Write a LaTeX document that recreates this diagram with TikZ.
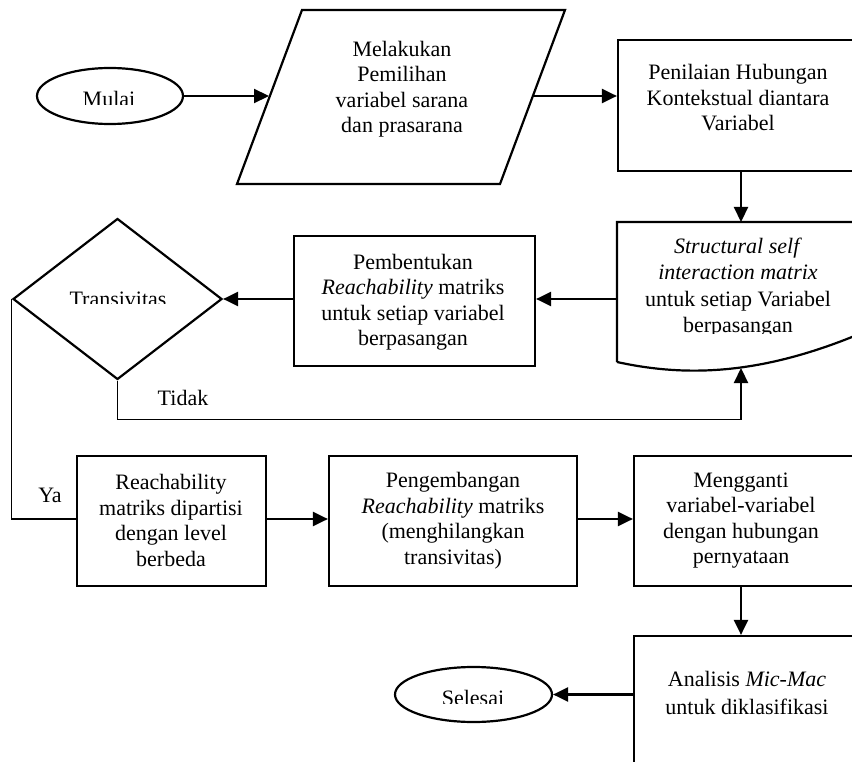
\documentclass[tikz,border=0pt]{standalone}
\usepackage{fontspec}
\setmainfont{Liberation Serif}
\usetikzlibrary{arrows.meta,shapes.geometric,calc}
\begin{document}
\begin{tikzpicture}[x=1pt,y=-1pt,
  every node/.style={font=\fontsize{22}{25.5}\selectfont},
  shp/.style={draw,line width=2.2pt,inner sep=0pt},
  box/.style={shp,rectangle},
  txt/.style={align=center,inner sep=0pt},
  arr/.style={line width=2.2pt,-{Triangle[length=15pt,width=14pt]}},
  tline/.style={line width=1.1pt}]
\useasboundingbox (0,0) rectangle (852,762);
\clip (0,0) rectangle (852,762);
\fill[white] (0,0) rectangle (852,762);

% Mulai
\node[shp,ellipse,minimum width=146pt,minimum height=56pt] (mulai) at (110,96) {};
\begin{scope}
  \clip (50,80) rectangle (170,105);
  \node[txt,anchor=base] (mulaiT) at (109,107) {Mulai};
\end{scope}

% parallelogram
\coordinate (pA) at (237,184);
\coordinate (pB) at (302,10);
\coordinate (pC) at (565,10);
\coordinate (pD) at (500,184);
\draw[line width=2.2pt] (pA) -- (pB) -- (pC) -- (pD) -- cycle;
\coordinate (pL) at (269,96);
\coordinate (pR) at (533,96);
\node[txt] (pilih) at (402,89) {Melakukan\\Pemilihan\\variabel sarana\\dan prasarana};
\draw[arr] (mulai) -- (pL);

% Penilaian
\node[box,minimum width=248pt,minimum height=131pt] (pen) at (742,105.5) {};
\node[txt] (penT) at (738,98) {Penilaian Hubungan\\Kontekstual diantara\\Variabel};
\draw[arr] (pR) -- (pR -| pen.west);

% Document shape
\coordinate (docT) at (741,222);
\coordinate (docL) at (617,299);
\coordinate (docB) at (741,368);
\draw[line width=2.2pt] (617,362) -- (617,222) -- (880,222) -- (880,325)
  .. controls (770,375) and (690,378) .. (617,362);
\begin{scope}
  \clip (600,225) rectangle (860,333);
  \node[txt,font=\fontsize{22}{26.5}\selectfont] (sim) at (738,287.5)
    {\textit{Structural self}\\\textit{interaction matrix}\\untuk setiap Variabel\\berpasangan};
\end{scope}
\draw[arr] (docT |- pen.south) -- (docT);

% Pembentukan
\node[box,minimum width=241pt,minimum height=130pt] (pemb) at (414.5,301) {};
\node[txt] (pembT) at (413,302) {Pembentukan\\\textit{Reachability} matriks\\untuk setiap variabel\\berpasangan};
\draw[arr] (docL) -- (docL -| pemb.east);

% Diamond
\node[shp,diamond,minimum width=209pt,minimum height=161pt] (dia) at (117.5,299) {};
\begin{scope}
  \clip (50,280) rectangle (190,303.5);
  \node[txt,anchor=base] (tran) at (118,306) {Transivitas};
\end{scope}
\draw[arr] (dia.east -| pemb.west) -- (dia.east);

% Tidak loop
\draw[tline] (dia.south) -- ++(0,39) coordinate (tk1) -- (tk1 -| docB) coordinate (tk2);
\draw[arr] (tk2) -- (docB);
\node[txt] (tidak) at (183,398) {Tidak};

% Bottom row
\node[box,minimum width=189pt,minimum height=130pt] (reach) at (171.5,521) {};
\node[box,minimum width=248pt,minimum height=130pt] (peng) at (453,521) {};
\node[box,minimum width=232pt,minimum height=130pt] (meng) at (750,521) {};
\coordinate (yaC) at (77,519);
\draw[tline] (dia.west) -- (dia.west |- yaC) -- (yaC);
\node[txt] (ya) at (50,495) {Ya};
\node[txt] (reachT) at (171,520.5) {Reachability\\matriks dipartisi\\dengan level\\berbeda};
\node[txt] (pengT) at (453,520.5) {Pengembangan\\\textit{Reachability} matriks\\(menghilangkan\\transivitas)};
\node[txt] (mengT) at (741,520.5) {Mengganti\\variabel-variabel\\dengan hubungan\\pernyataan};
\draw[arr] (reach.east |- yaC) -- (peng.west |- yaC);
\draw[arr] (peng.east |- yaC) -- (meng.west |- yaC);

% Analisis
\node[box,minimum width=232pt,minimum height=164pt] (anal) at (750,718) {};
\node[txt,font=\fontsize{22}{28}\selectfont] (analT) at (747,692.5) {Analisis \textit{Mic-Mac}\\untuk diklasifikasi};
\draw[arr] (meng.south -| docT) -- (anal.north -| docT);

% Selesai
\node[shp,ellipse,minimum width=157pt,minimum height=55pt] (sel) at (473.5,694.5) {};
\begin{scope}
  \clip (420,680) rectangle (530,703.5);
  \node[txt,anchor=base] (selT) at (473,705) {Selesai};
\end{scope}
\draw[arr] (anal.west |- sel.east) -- (sel.east);
\end{tikzpicture}
\end{document}
